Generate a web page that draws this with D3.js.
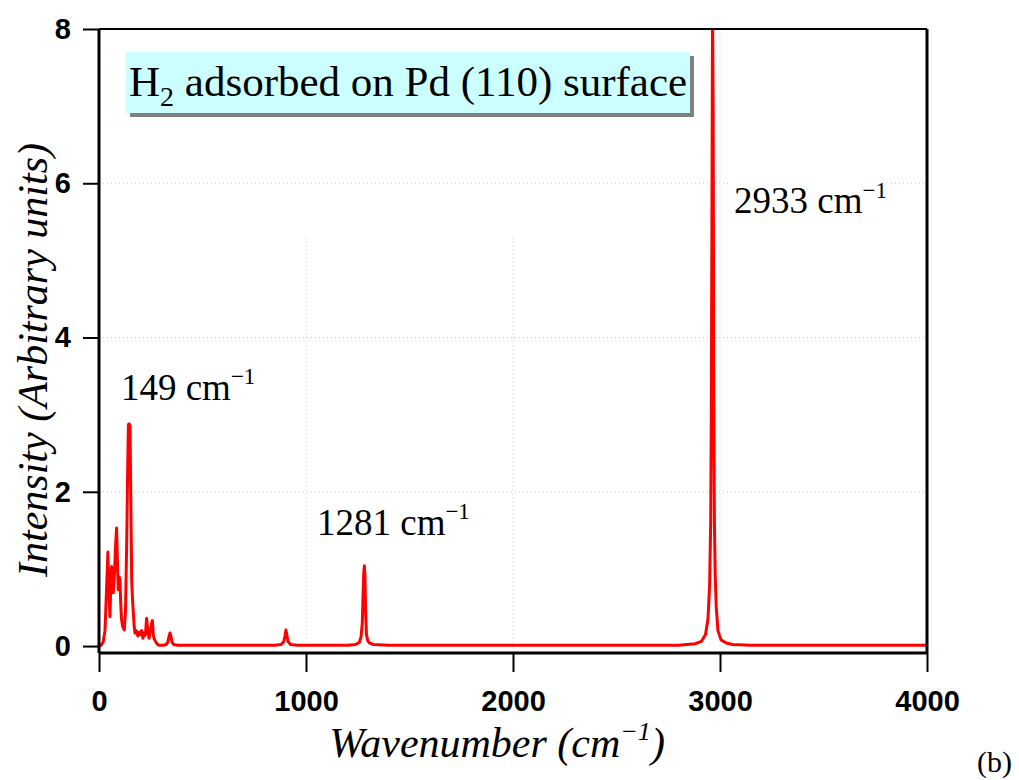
<!DOCTYPE html>
<html><head><meta charset="utf-8">
<script src="https://cdn.jsdelivr.net/npm/d3@7"></script>
<style>body{margin:0;background:#fff}
.serif{font-family:"Liberation Serif","Times New Roman",Times,"DejaVu Serif",serif}
.sans{font-family:"Liberation Sans",Arial,Helvetica,sans-serif}
</style>
</head><body><svg id="c" width="1019" height="780"></svg>
<script>
// Spectrum
const wavenumber = [0,10,20,29,36,43,48,53,57,61,65,69,75,80,85,89,93,97,101,105,109,115,122,128,134,138,142,146,150,154,158,162,166,170,174,180,188,195,200,206,212,218,224,230,236,242,248,254,258,262,266,271,280,290,310,325,333,338,343,348,353,361,380,500,700,850,880,893,899,903,907,913,925,960,1100,1200,1240,1258,1266,1272,1276,1279,1282,1285,1288,1292,1298,1306,1325,1400,1800,2400,2800,2880,2910,2930,2942,2950,2955,2958,2961,2964,2967,2970,2973,2977,2982,2990,3005,3030,3060,3150,3500,4000];
const intensity = [0,0.01,0.05,0.2,0.7,1.22,0.7,0.38,0.8,1.03,0.85,0.69,0.95,1.3,1.53,1.1,0.73,0.9,0.86,0.55,0.34,0.25,0.21,0.45,1.37,2.2,2.87,2.88,2.85,1.8,0.86,0.6,0.43,0.25,0.17,0.2,0.13,0.18,0.15,0.2,0.1,0.17,0.14,0.36,0.2,0.1,0.2,0.3,0.33,0.15,0.1,0.07,0.03,0.01,0.01,0.02,0.06,0.12,0.17,0.12,0.05,0.02,0.01,0.01,0.01,0.01,0.02,0.06,0.14,0.21,0.15,0.06,0.02,0.01,0.01,0.01,0.02,0.05,0.12,0.3,0.7,0.95,1.04,0.9,0.45,0.15,0.07,0.04,0.02,0.01,0.01,0.01,0.01,0.03,0.06,0.15,0.35,0.8,1.6,3.0,5.5,8.3,7.0,3.2,1.6,0.9,0.5,0.2,0.08,0.04,0.02,0.01,0.01,0.01];
const xTicks = [0,1000,2000,3000,4000];
const yTicks = [0,2,4,6,8];
const gridX = [1000,2000,3000];
const gridY = [2,4,6];
const peakLabels = ["149","1281","2933"];
const titleText = "adsorbed on Pd (110) surface";

const svg = d3.select("#c");
const x = d3.scaleLinear().domain([0,4000]).range([99,927]);
const y = d3.scaleLinear().domain([-0.09,8]).range([653,29]);

// grid
const grid = svg.append("g").attr("stroke","#c8c8c8").attr("stroke-width",1).attr("stroke-dasharray","1,3");
grid.selectAll("line.gy").data(gridY).join("line").attr("class","gy")
  .attr("x1",x(0)).attr("x2",x(4000)).attr("y1",d=>y(d)).attr("y2",d=>y(d));
grid.selectAll("line.gx").data(gridX).join("line").attr("class","gx")
  .attr("x1",d=>x(d)).attr("x2",d=>x(d)).attr("y1",d=>d===3000?y(8):y(5.3)).attr("y2",y(0));

// clip
svg.append("clipPath").attr("id","clip").append("rect")
  .attr("x",x(0)).attr("y",y(8)).attr("width",x(4000)-x(0)).attr("height",y(-0.09)-y(8));

// peak labels with white background
function cmLabel(g, num, px, py, size){
  const t = g.append("text").attr("class","serif").attr("x",px).attr("y",py).attr("font-size",size).attr("fill","#000");
  t.append("tspan").text(num+" cm");
  t.append("tspan").attr("font-size",size*0.62).attr("dy",-size*0.42).text("\u22121");
  return t;
}
const lab = svg.append("g");
const lpos = [[106,3.19],[1053,1.44],[3068,5.61]];
peakLabels.forEach((p,i)=>{
  const t = cmLabel(lab, p, x(lpos[i][0]), y(lpos[i][1]), 37);
  const bb = t.node().getBBox();
  lab.insert("rect","text").attr("x",bb.x-4).attr("y",bb.y).attr("width",bb.width+8).attr("height",bb.height+4).attr("fill","#fff");
});

// spectrum line
const pts = wavenumber.map((w,i)=>[w,intensity[i]]);
svg.append("path").datum(pts).attr("clip-path","url(#clip)")
  .attr("fill","none").attr("stroke","#ff0000").attr("stroke-width",3).attr("stroke-linejoin","round")
  .attr("d", d3.line().x(d=>x(d[0])).y(d=>y(d[1])));

// frame
svg.append("line").attr("x1",x(0)).attr("x2",x(4000)).attr("y1",y(8)).attr("y2",y(8)).attr("stroke","#000").attr("stroke-width",2);
svg.append("line").attr("x1",x(4000)).attr("x2",x(4000)).attr("y1",y(8)).attr("y2",y(-0.09)).attr("stroke","#000").attr("stroke-width",3);

// axes
const ax = svg.append("g").attr("transform",`translate(0,${y(-0.09)})`)
  .call(d3.axisBottom(x).tickValues(xTicks).tickSize(19).tickPadding(18).tickFormat(d3.format("d")));
const ay = svg.append("g").attr("transform",`translate(${x(0)},0)`)
  .call(d3.axisLeft(y).tickValues(yTicks).tickSize(16).tickPadding(12).tickFormat(d3.format("d")));
[ax,ay].forEach(a=>{
  a.attr("font-family",null).attr("font-size",null);
  a.select(".domain").attr("stroke","#000").attr("stroke-width",3);
  a.selectAll(".tick line").attr("stroke","#000").attr("stroke-width",2);
  a.selectAll(".tick text").attr("class","sans").attr("font-weight","bold").attr("font-size",29).attr("fill","#000");
});
ax.select(".domain").attr("d",`M${x(0)},0H${x(4000)}`);
ay.select(".domain").attr("d",`M0,${y(8)}V${y(-0.09)}`);

// title box
const tg = svg.append("g");
tg.append("rect").attr("x",130).attr("y",56).attr("width",564).attr("height",61).attr("fill","#808080");
tg.append("rect").attr("x",126).attr("y",52).attr("width",564).attr("height",61).attr("fill","#ccffff");
const tt = tg.append("text").attr("class","serif").attr("x",129).attr("y",96).attr("font-size",43).attr("fill","#000");
tt.append("tspan").text("H");
tt.append("tspan").attr("font-size",28).attr("dy",10).text("2");
tt.append("tspan").attr("dy",-10).text(" "+titleText);

// axis titles
const xt = svg.append("text").attr("class","serif").attr("x",497).attr("y",757).attr("text-anchor","middle")
  .attr("font-style","italic").attr("font-size",42).attr("fill","#000");
xt.append("tspan").text("Wavenumber (cm");
xt.append("tspan").attr("font-size",26).attr("dy",-17).text("\u22121");
xt.append("tspan").attr("dy",17).text(")");

svg.append("text").attr("class","serif").attr("transform","translate(47,360) rotate(-90)").attr("text-anchor","middle")
  .attr("font-style","italic").attr("font-size",42).attr("fill","#000")
  .text("Intensity (Arbitrary units)");

svg.append("text").attr("class","serif").attr("x",977).attr("y",772).attr("font-size",30).attr("fill","#000").text("(b)");
</script></body></html>
